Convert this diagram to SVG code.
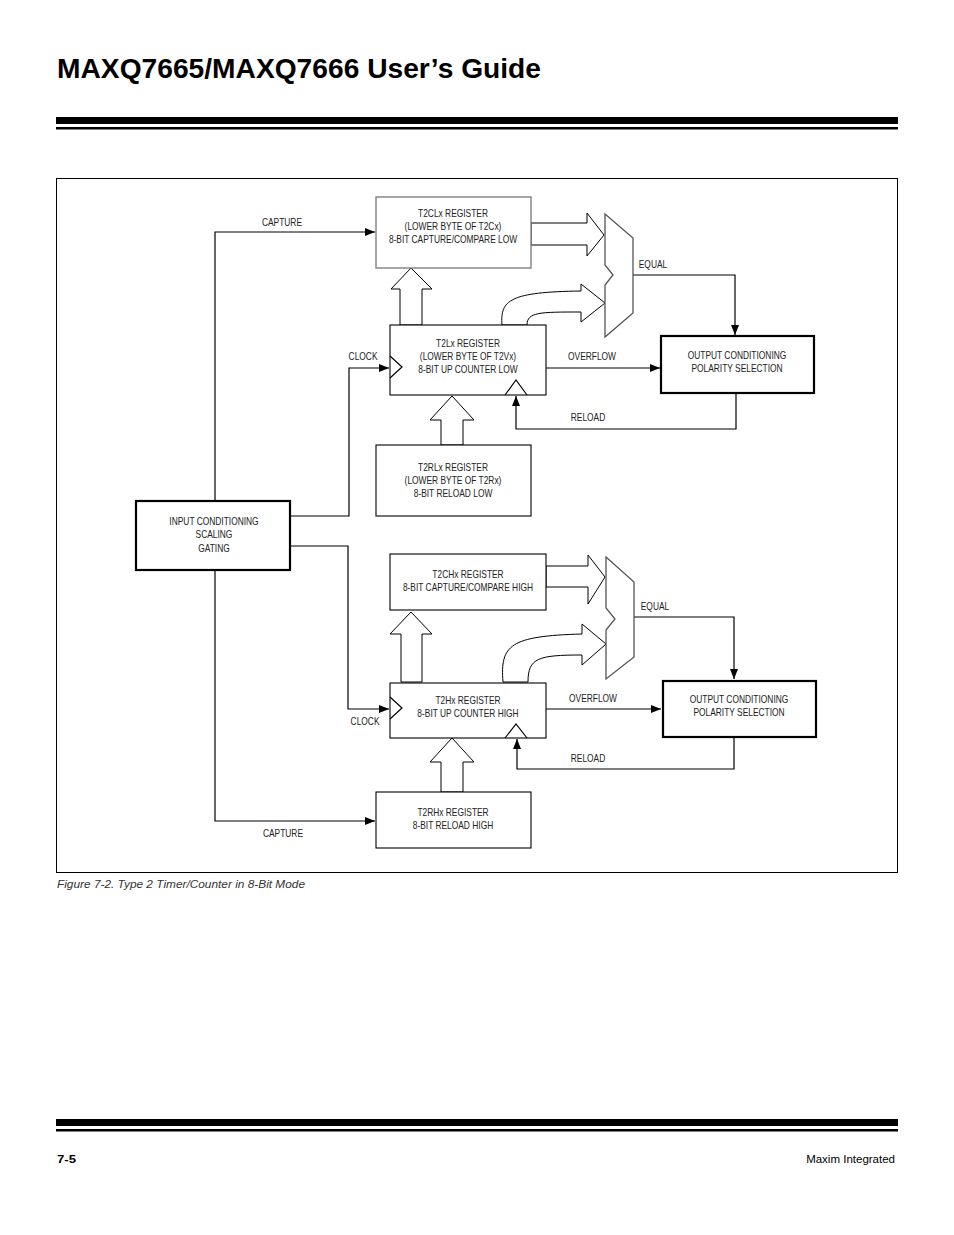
<svg xmlns="http://www.w3.org/2000/svg" width="954" height="1235" viewBox="0 0 954 1235">
<defs>
<marker id="ah" viewBox="0 0 10 10" refX="10" refY="5" markerWidth="10" markerHeight="10" markerUnits="userSpaceOnUse" orient="auto">
<path d="M0,1 L10,5 L0,9 Z" fill="#000"/>
</marker>
</defs>
<style>
.t{font-family:"Liberation Sans",Arial,sans-serif;font-size:10px;fill:#222;text-anchor:middle;transform-box:fill-box;transform-origin:center;transform:scaleX(0.84)}
.box{fill:#fff;stroke:#000;stroke-width:1.1}
.gbox{fill:#fff;stroke:#777;stroke-width:1.3}
.tbox{fill:#fff;stroke:#000;stroke-width:2.2}
.w{fill:none;stroke:#000;stroke-width:1.2}
.ba{fill:#fff;stroke:#000;stroke-width:1}
.mux{fill:#fff;stroke:#555;stroke-width:1.3}
</style>
<rect width="954" height="1235" fill="#fff"/>
<text x="57" y="78" font-family="Liberation Sans,Arial,sans-serif" font-weight="bold" font-size="27.5" fill="#000" textLength="484" lengthAdjust="spacingAndGlyphs">MAXQ7665/MAXQ7666 User’s Guide</text>
<rect x="56" y="117" width="842" height="7" fill="#000"/>
<rect x="56" y="127" width="842" height="2.5" fill="#000"/>
<rect x="56.5" y="178.5" width="841" height="694" fill="none" stroke="#000" stroke-width="1"/>

<g id="connectors">
<path class="w" d="M215,501 V232 H375" marker-end="url(#ah)"/>
<path class="w" d="M291,516 H349 V368 H389" marker-end="url(#ah)"/>
<path class="w" d="M291,546 H348 V709 H389" marker-end="url(#ah)"/>
<path class="w" d="M215,570 V821 H375" marker-end="url(#ah)"/>
<path class="w" d="M633,275 H735 V335" marker-end="url(#ah)"/>
<path class="w" d="M546,368 H660" marker-end="url(#ah)"/>
<path class="w" d="M736,394 V429 H516 V396" marker-end="url(#ah)"/>
<path class="w" d="M634,617 H734 V679" marker-end="url(#ah)"/>
<path class="w" d="M546,709 H661" marker-end="url(#ah)"/>
<path class="w" d="M734,737 V769 H517 V739" marker-end="url(#ah)"/>
<path class="ba" d="M531,223 H587 V213 L604,235 L587,256 V245 H531 Z"/>
<path class="ba" d="M400,325 V289 H391 L411,268 L432,289 H422 V325 Z"/>
<path class="ba" d="M502,325 C500,300 510,292 581,291 V284 L605,303 L581,322 V312 C540,312 527,312 527,325 Z"/>
<path class="ba" d="M441,445 V420 H430 L452,396 L474,420 H463 V445 Z"/>
<path class="ba" d="M546,566 H588 V555 L605,577 L588,604 V587 H546 Z"/>
<path class="ba" d="M401,682 V634 H390 L411,612 L432,634 H422 V682 Z"/>
<path class="ba" d="M503,682 C500,645 510,636 582,634 V624 L606,644 L582,665 V655 C538,655 528,658 528,682 Z"/>
<path class="ba" d="M441,792 V762 H430 L452,738 L474,762 H463 V792 Z"/>
</g>

<g id="mux1"><path class="mux" d="M605,214 L633,238 V313 L605,337 V285 L613,275 L605,265 Z"/></g>
<g id="mux2"><path class="mux" d="M606,557 L634,582 V657 L606,679 V630 L615,619 L606,608 Z"/></g>

<g id="t2clx"><rect class="gbox" x="376" y="197" width="155" height="71"/>
<text class="t" x="453" y="217">T2CLx REGISTER</text>
<text class="t" x="453" y="230">(LOWER BYTE OF T2Cx)</text>
<text class="t" x="453" y="243">8-BIT CAPTURE/COMPARE LOW</text></g>

<g id="t2lx"><rect class="box" x="390" y="325" width="156" height="70"/>
<path class="w" d="M390,356 L402,367 L390,378" stroke-width="0.9"/>
<path class="w" d="M505,395 L516,380 L527,395" stroke-width="0.9"/>
<text class="t" x="468" y="347">T2Lx REGISTER</text>
<text class="t" x="468" y="360">(LOWER BYTE OF T2Vx)</text>
<text class="t" x="468" y="373">8-BIT UP COUNTER LOW</text></g>

<g id="t2rlx"><rect class="box" x="376" y="445" width="155" height="71"/>
<text class="t" x="453" y="471">T2RLx REGISTER</text>
<text class="t" x="453" y="484">(LOWER BYTE OF T2Rx)</text>
<text class="t" x="453" y="497">8-BIT RELOAD LOW</text></g>

<g id="out1"><rect class="tbox" x="661" y="336" width="153" height="57"/>
<text class="t" x="737" y="359">OUTPUT CONDITIONING</text>
<text class="t" x="737" y="372">POLARITY SELECTION</text></g>

<g id="input"><rect class="tbox" x="136" y="501" width="154" height="69"/>
<text class="t" x="214" y="525">INPUT CONDITIONING</text>
<text class="t" x="214" y="538">SCALING</text>
<text class="t" x="214" y="552">GATING</text></g>

<g id="t2chx"><rect class="box" x="390" y="554" width="156" height="56"/>
<text class="t" x="468" y="578">T2CHx REGISTER</text>
<text class="t" x="468" y="591">8-BIT CAPTURE/COMPARE HIGH</text></g>

<g id="t2hx"><rect class="box" x="390" y="683" width="156" height="55"/>
<path class="w" d="M390,697 L402,708 L390,719" stroke-width="0.9"/>
<path class="w" d="M505,738 L516,724 L527,738" stroke-width="0.9"/>
<text class="t" x="468" y="704">T2Hx REGISTER</text>
<text class="t" x="468" y="717">8-BIT UP COUNTER HIGH</text></g>

<g id="out2"><rect class="tbox" x="663" y="681" width="153" height="56"/>
<text class="t" x="739" y="703">OUTPUT CONDITIONING</text>
<text class="t" x="739" y="716">POLARITY SELECTION</text></g>

<g id="t2rhx"><rect class="box" x="376" y="792" width="155" height="56"/>
<text class="t" x="453" y="816">T2RHx REGISTER</text>
<text class="t" x="453" y="829">8-BIT RELOAD HIGH</text></g>

<g id="labels">
<text class="t" x="282" y="226">CAPTURE</text>
<text class="t" x="363" y="360">CLOCK</text>
<text class="t" x="592" y="360">OVERFLOW</text>
<text class="t" x="588" y="421">RELOAD</text>
<text class="t" x="653" y="268">EQUAL</text>
<text class="t" x="655" y="610">EQUAL</text>
<text class="t" x="593" y="702">OVERFLOW</text>
<text class="t" x="365" y="725">CLOCK</text>
<text class="t" x="588" y="762">RELOAD</text>
<text class="t" x="283" y="837">CAPTURE</text>
</g>

<text x="57" y="888" font-family="Liberation Sans,Arial,sans-serif" font-style="italic" font-size="11.3" fill="#333" textLength="248" lengthAdjust="spacingAndGlyphs">Figure 7-2. Type 2 Timer/Counter in 8-Bit Mode</text>
<rect x="56" y="1119" width="842" height="7" fill="#000"/>
<rect x="56" y="1129" width="842" height="2.5" fill="#000"/>
<text x="57" y="1163" font-family="Liberation Sans,Arial,sans-serif" font-weight="bold" font-size="10.5" fill="#000" textLength="19" lengthAdjust="spacingAndGlyphs">7-5</text>
<text x="895" y="1163" font-family="Liberation Sans,Arial,sans-serif" font-size="11.5" fill="#000" text-anchor="end">Maxim Integrated</text>
</svg>
